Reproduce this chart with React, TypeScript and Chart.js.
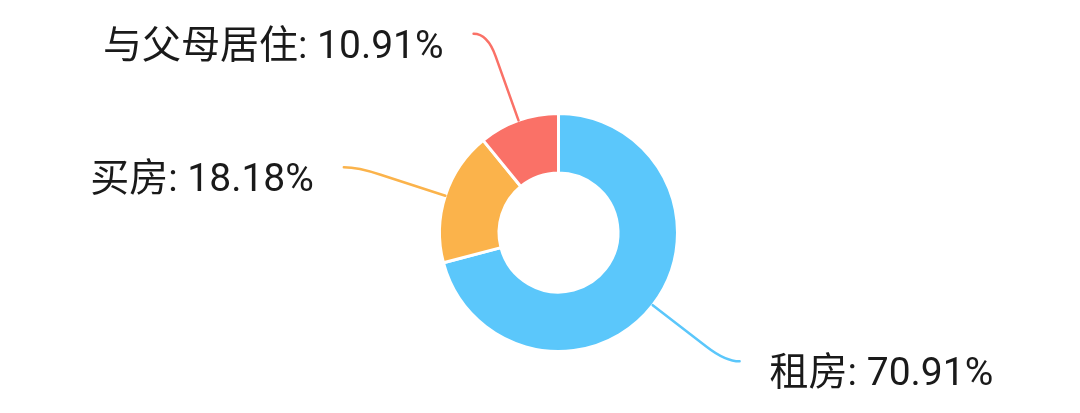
import { useEffect, useRef } from "react";
import { Chart, ArcElement, DoughnutController, type Plugin } from "chart.js";

Chart.register(ArcElement, DoughnutController);

const categories = ["租房", "买房", "与父母居住"];
const shares = [70.91, 18.18, 10.91];
const colors = ["#5bc7fb", "#fbb34b", "#fa7167"];

// leader lines + outside labels, pie-chart style
const outsideLabels: Plugin<"doughnut"> = {
  id: "outsideLabels",
  afterDatasetsDraw(chart) {
    const { ctx } = chart;
    const meta = chart.getDatasetMeta(0);
    const len1 = 92;
    const len2 = 14;
    const bend = 24;
    ctx.save();
    meta.data.forEach((el: any, i) => {
      const { x, y, startAngle, endAngle, outerRadius } = el.getProps(
        ["x", "y", "startAngle", "endAngle", "outerRadius"],
        true
      );
      const a = (startAngle + endAngle) / 2;
      const dx = Math.cos(a);
      const dy = Math.sin(a);
      const side = dx < 0 ? -1 : 1;
      const p0x = x + dx * outerRadius;
      const p0y = y + dy * outerRadius;
      const p1x = p0x + dx * len1;
      const p1y = p0y + dy * len1;
      const p2x = p1x + side * len2;

      ctx.beginPath();
      ctx.moveTo(p0x, p0y);
      ctx.lineTo(p1x - dx * bend, p1y - dy * bend);
      ctx.quadraticCurveTo(p1x, p1y, p2x, p1y);
      ctx.strokeStyle = colors[i];
      ctx.lineWidth = 2.5;
      ctx.lineCap = "round";
      ctx.stroke();

      ctx.font = '39px Roboto, "Noto Sans CJK SC", sans-serif';
      ctx.fillStyle = "#1a1a1a";
      ctx.textBaseline = "middle";
      ctx.textAlign = side < 0 ? "right" : "left";
      ctx.fillText(
        `${categories[i]}: ${shares[i].toFixed(2)}%`,
        p2x + side * 30,
        p1y + 14
      );
    });
    ctx.restore();
  },
};

function DonutChart() {
  const canvasRef = useRef<HTMLCanvasElement>(null);
  const chartRef = useRef<Chart<"doughnut"> | null>(null);

  useEffect(() => {
    document.body.style.margin = "0";
    if (!canvasRef.current) return;
    chartRef.current = new Chart(canvasRef.current, {
      type: "doughnut",
      data: {
        labels: categories,
        datasets: [
          {
            data: shares,
            backgroundColor: colors,
            borderColor: "#ffffff",
            borderWidth: 3,
          },
        ],
      },
      options: {
        animation: false,
        responsive: true,
        maintainAspectRatio: false,
        cutout: "50%",
        layout: { padding: { left: 438, right: 401, top: 112, bottom: 60 } },
        plugins: {
          legend: { display: false },
          tooltip: { enabled: false },
        },
      },
      plugins: [outsideLabels],
    });
    return () => {
      chartRef.current?.destroy();
      chartRef.current = null;
    };
  }, []);

  return (
    <div style={{ position: "relative", width: 1080, height: 413, background: "#fff" }}>
      <canvas ref={canvasRef} />
    </div>
  );
}

export default function App() {
  return <DonutChart />;
}
